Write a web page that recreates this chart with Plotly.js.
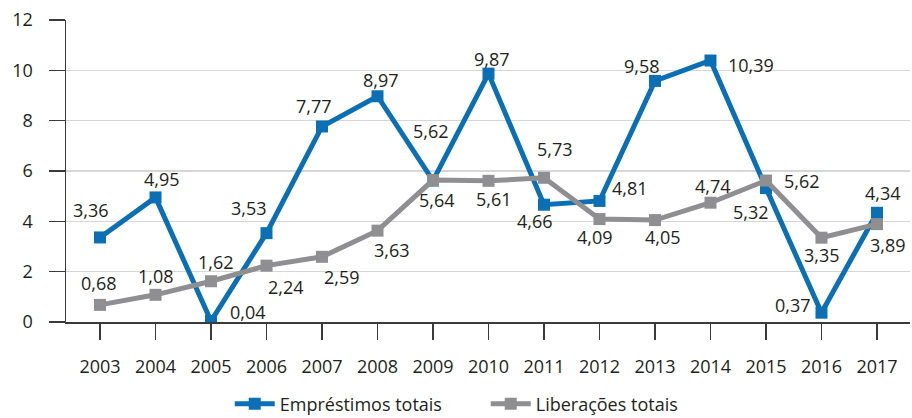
<!DOCTYPE html>
<html>
<head>
<meta charset="utf-8">
<script src="https://cdn.plot.ly/plotly-3.0.1.min.js"></script>
<style>html,body{margin:0;padding:0;background:#fff;}#chart{width:912px;height:418px;}</style>
</head>
<body>
<div id="chart"></div>
<script>
var years = [2003, 2004, 2005, 2006, 2007, 2008, 2009, 2010, 2011, 2012, 2013, 2014, 2015, 2016, 2017];
var emprestimos = [3.36, 4.95, 0.04, 3.53, 7.77, 8.97, 5.62, 9.87, 4.66, 4.81, 9.58, 10.39, 5.32, 0.37, 4.34];
var liberacoes = [0.68, 1.08, 1.62, 2.24, 2.59, 3.63, 5.64, 5.61, 5.73, 4.09, 4.05, 4.74, 5.62, 3.35, 3.89];
var yTicks = [0, 2, 4, 6, 8, 10, 12];
var seriesNames = ['Empréstimos totais', 'Liberações totais'];

// label placement offsets (pixels, screen coords: dx right, dy down)
var empOffsets = [[-9,-27],[6,-18],[37,-9],[-18,-25],[-8,-20],[3,-16],[-2,-50],[3,-15],[-9,16],[31,-13],[-13,-15],[41,4],[-15,24],[-28,-8],[6,-20]];
var libOffsets = [[-1,-22],[0,-19],[5,-19],[19,21],[20,20],[14,19],[4,20],[5,18],[11,-29],[-4,18],[8,17],[3,-17],[36,0],[1,17],[11,21]];

var blue = '#0a6fb4';
var gray = '#8f8f91';
var textColor = '#231f20';
var fnt = '"Open Sans", "DejaVu Sans", sans-serif';

function fmt(v){ return v.toFixed(2).replace('.', ','); }

var traces = [
  {x: years, y: emprestimos, name: seriesNames[0], type: 'scatter', mode: 'lines+markers',
   line: {color: blue, width: 5}, marker: {symbol: 'square', size: 12, color: blue}},
  {x: years, y: liberacoes, name: seriesNames[1], type: 'scatter', mode: 'lines+markers',
   line: {color: gray, width: 5}, marker: {symbol: 'square', size: 12, color: gray}}
];

var annotations = [];
function addLabels(vals, offs){
  for (var i = 0; i < years.length; i++){
    annotations.push({x: years[i], y: vals[i], xref: 'x', yref: 'y', text: fmt(vals[i]),
      showarrow: false, xanchor: 'center', yanchor: 'middle',
      xshift: offs[i][0], yshift: -offs[i][1],
      font: {family: fnt, size: 18, color: textColor}});
  }
}
addLabels(emprestimos, empOffsets);
addLabels(liberacoes, libOffsets);

var layout = {
  width: 912, height: 418,
  margin: {l: 66, r: 2, t: 20, b: 96, autoexpand: false},
  paper_bgcolor: '#fff', plot_bgcolor: '#fff',
  showlegend: true,
  legend: {orientation: 'h', x: 0.194, xanchor: 'left', y: -0.272, yanchor: 'middle',
    font: {family: fnt, size: 18, color: textColor}, itemwidth: 40, tracegroupgap: 0,
    entrywidth: 201, entrywidthmode: 'pixels'},
  xaxis: {range: [2002.387, 2017.595], tickmode: 'array', tickvals: years, ticktext: years.map(String),
    showgrid: false, zeroline: false, showline: true, linecolor: '#3a3a3a', linewidth: 1.5,
    ticks: 'outside', ticklen: 16, tickwidth: 1.2, tickcolor: '#3a3a3a', ticklabelstandoff: 12,
    tickfont: {family: fnt, size: 18, color: textColor}, fixedrange: true},
  yaxis: {range: [0, 12], tickmode: 'array', tickvals: yTicks, ticktext: yTicks.map(String),
    showgrid: true, gridcolor: '#d6d6d6', gridwidth: 1.2, zeroline: false,
    showline: true, linecolor: '#3a3a3a', linewidth: 1.5,
    ticks: 'outside', ticklen: 16, tickwidth: 1.2, tickcolor: '#3a3a3a', ticklabelstandoff: 12,
    tickfont: {family: fnt, size: 18, color: textColor}, fixedrange: true},
  annotations: annotations,
  font: {family: fnt, color: textColor}
};

Plotly.newPlot('chart', traces, layout, {displayModeBar: false, staticPlot: true});
</script>
</body>
</html>
